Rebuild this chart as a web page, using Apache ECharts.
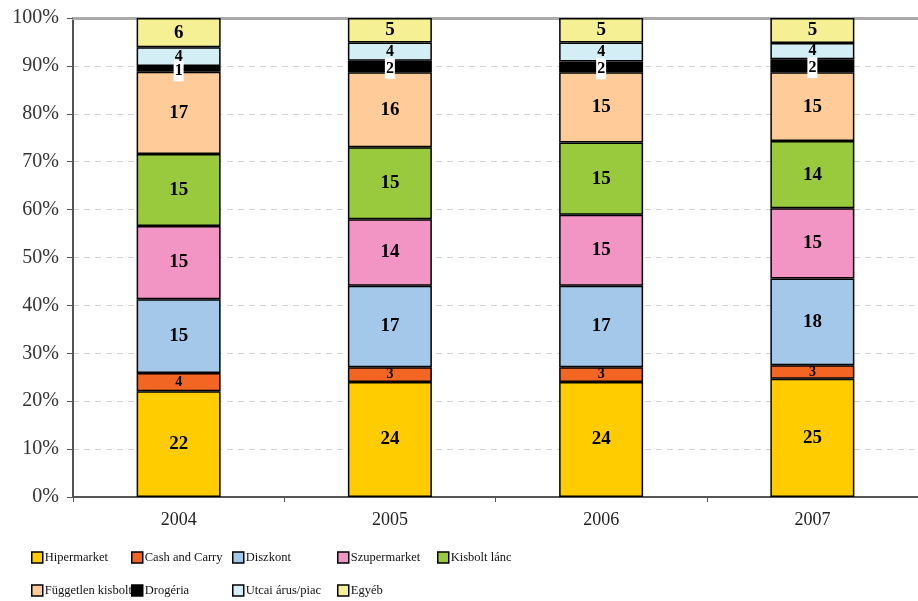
<!DOCTYPE html>
<html><head><meta charset="utf-8">
<script src="https://cdn.jsdelivr.net/npm/echarts@6/dist/echarts.min.js"></script>
<style>html,body{margin:0;padding:0;background:#fff}#c{width:918px;height:601px}</style>
</head><body><div id="c"></div>
<script>
const categories = ['2004', '2005', '2006', '2007'];
const seriesNames = ['Hipermarket', 'Cash and Carry', 'Diszkont', 'Szupermarket', 'Kisbolt lánc', 'Független kisbolt', 'Drogéria', 'Utcai árus/piac', 'Egyéb'];
const hipermarket = [22.1, 24.0, 24.0, 24.7];
const cashAndCarry = [3.8, 3.1, 3.1, 2.8];
const diszkont = [15.4, 17.0, 17.0, 18.1];
const szupermarket = [15.3, 13.9, 14.8, 14.7];
const kisboltLanc = [15.0, 15.0, 15.1, 14.0];
const fuggetlen = [17.2, 15.7, 14.7, 14.4];
const drogeria = [1.2, 2.4, 2.2, 2.7];
const utcai = [3.9, 3.8, 4.0, 3.4];
const egyeb = [6.1, 5.1, 5.1, 5.2];
const hipermarketLabels = [22, 24, 24, 25];
const cashAndCarryLabels = [4, 3, 3, 3];
const diszkontLabels = [15, 17, 17, 18];
const szupermarketLabels = [15, 14, 15, 15];
const kisboltLancLabels = [15, 15, 15, 14];
const fuggetlenLabels = [17, 16, 15, 15];
const drogeriaLabels = [1, 2, 2, 2];
const utcaiLabels = [4, 4, 4, 4];
const egyebLabels = [6, 5, 5, 5];
const yTicks = ['0%', '10%', '20%', '30%', '40%', '50%', '60%', '70%', '80%', '90%', '100%'];

const values = [hipermarket, cashAndCarry, diszkont, szupermarket, kisboltLanc, fuggetlen, drogeria, utcai, egyeb];
const labels = [hipermarketLabels, cashAndCarryLabels, diszkontLabels, szupermarketLabels, kisboltLancLabels, fuggetlenLabels, drogeriaLabels, utcaiLabels, egyebLabels];
const colors = ['#FFCC00', '#F26522', '#A4C8EA', '#F294C4', '#99C93C', '#FFCC99', '#000000', '#D4EEF5', '#F5F094'];
const labelSizes = [19, 14, 19, 19, 19, 19, 16, 16, 19];
const serif = '"Liberation Serif", "DejaVu Serif", serif';

const series = values.map((v, i) => ({
  name: seriesNames[i],
  type: 'bar',
  stack: 'total',
  barWidth: 84,
  data: v,
  itemStyle: { color: colors[i], borderColor: '#000', borderWidth: 1.5 },
  label: {
    show: true,
    position: 'inside',
    fontFamily: serif,
    fontWeight: 'bold',
    fontSize: labelSizes[i],
    color: '#000',
    backgroundColor: i === 6 ? '#fff' : 'transparent',
    padding: i === 6 ? [2, 1, 3, 1] : 0,
    offset: i === 6 ? [0, 2] : [0, 0],
    formatter: p => String(labels[i][p.dataIndex])
  },
  emphasis: { disabled: true }
}));

const legendPos = [
  [31, 551], [131, 551], [232, 551], [337, 551], [437, 551],
  [31, 584], [131, 584], [232, 584], [337, 584]
];
const legends = seriesNames.map((n, i) => ({
  data: [n],
  left: legendPos[i][0],
  top: legendPos[i][1],
  orient: 'horizontal',
  itemWidth: 11,
  itemHeight: 11,
  itemGap: 4,
  padding: 0,
  icon: 'rect',
  itemStyle: { borderColor: '#000', borderWidth: 1.5 },
  textStyle: { fontFamily: serif, fontSize: 12.5, color: '#111', padding: [0, 0, 0, -3] },
  selectedMode: false
}));

const chart = echarts.init(document.getElementById('c'), null, { renderer: 'canvas' });
chart.setOption({
  animation: false,
  backgroundColor: '#fff',
  legend: legends,
  grid: { left: 73, top: 18, width: 853, height: 479, containLabel: false },
  xAxis: [{
    type: 'category',
    data: categories,
    boundaryGap: true,
    axisLine: { show: true, lineStyle: { color: '#555', width: 2 } },
    axisTick: { show: true, alignWithLabel: false, length: 5, lineStyle: { color: '#555', width: 1 } },
    axisLabel: { fontFamily: serif, fontSize: 18, color: '#222', margin: 14 },
    splitLine: { show: false }
  }, {
    type: 'category',
    position: 'top',
    data: categories,
    axisLine: { show: true, lineStyle: { color: '#aaa', width: 3 } },
    axisTick: { show: false },
    axisLabel: { show: false }
  }],
  yAxis: {
    type: 'value',
    min: 0,
    max: 100,
    interval: 10,
    axisLine: { show: true, lineStyle: { color: '#555', width: 2 } },
    axisTick: { show: true, length: 6, lineStyle: { color: '#555', width: 1 } },
    axisLabel: { fontFamily: serif, fontSize: 20, color: '#333', margin: 14, formatter: v => yTicks[Math.round(v / 10)] },
    splitLine: { show: true, lineStyle: { color: '#d4d4d4', type: [6, 5], width: 1 } }
  },
  series: series
});
</script></body></html>
